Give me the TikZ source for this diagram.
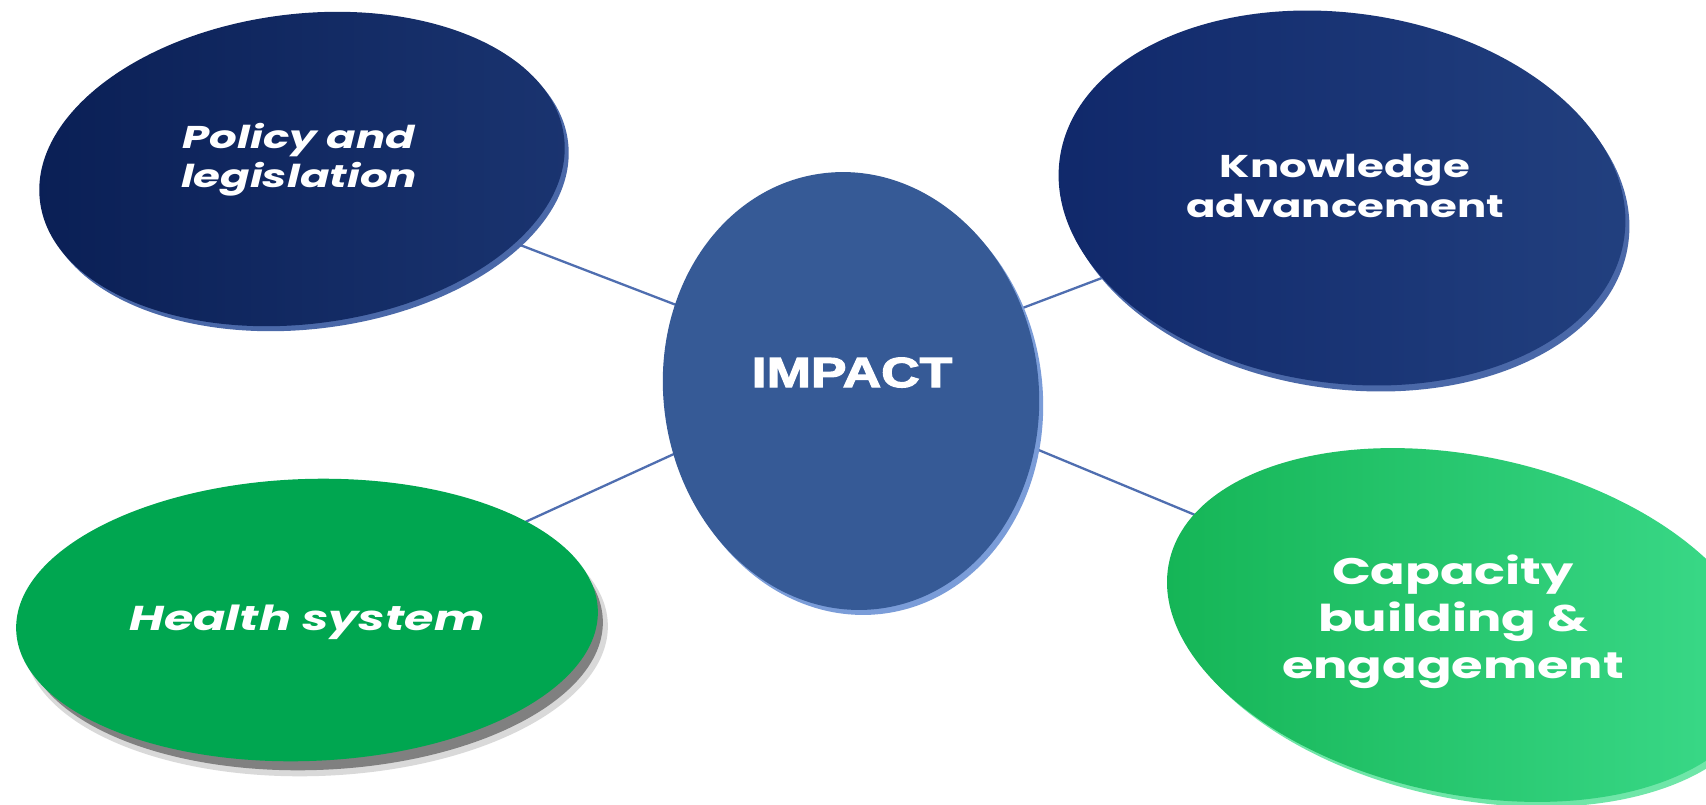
\documentclass[tikz,border=0pt]{standalone}
\usepackage{fontspec}
\setmainfont{Poppins}
\newfontfamily\lblfont{Poppins}[FakeStretch=1.38]
\newfontfamily\impfont{Liberation Sans}[FakeStretch=1.27, BoldFeatures={FakeBold=3}]
\usetikzlibrary{shapes.geometric,backgrounds}
\definecolor{pola}{HTML}{0A1F55}
\definecolor{polb}{HTML}{1A3470}
\definecolor{polrim}{HTML}{4A68A8}
\definecolor{knoa}{HTML}{10286A}
\definecolor{knob}{HTML}{22407F}
\definecolor{imp}{HTML}{365A96}
\definecolor{imprim}{HTML}{7A9CD8}
\definecolor{hea}{HTML}{00A650}
\definecolor{capa}{HTML}{14B455}
\definecolor{capb}{HTML}{3DDC8C}
\definecolor{caprim}{HTML}{6FE6A8}
\definecolor{linkblue}{HTML}{4F6EB0}
\begin{document}
\begin{tikzpicture}[x=1pt,y=1pt,
  disc/.style={ellipse, inner sep=0pt, outer sep=0pt},
  link/.style={draw=linkblue, line width=2.3pt},
  lbl/.style={text=white, align=center, inner sep=0pt}]
\useasboundingbox (0,0) rectangle (1706,-804);
\begin{scope}[on background layer]
\fill[white] (0,0) rectangle (1706,-804);
\end{scope}

% rims and shadows
\node[disc, minimum width=528, minimum height=310, rotate=7, fill=polrim] at (306,-174) {};
\node[disc, minimum width=570, minimum height=370, rotate=-8, fill=polrim] at (1346,-204) {};
\node[disc, minimum width=375, minimum height=439, rotate=8, fill=imprim] at (855,-396) {};
\node[disc, minimum width=584, minimum height=284, rotate=2, fill=black!15] at (316,-634) {};
\node[disc, minimum width=578, minimum height=280, rotate=2, fill=black!50] at (314,-630) {};
\node[disc, minimum width=605, minimum height=338, rotate=-12, fill=caprim] at (1470,-630) {};

% main discs
\node[disc, minimum width=528, minimum height=310, rotate=7, left color=pola, right color=polb] (pol) at (302,-169) {};
\node[disc, minimum width=570, minimum height=370, rotate=-8, left color=knoa, right color=knob] (kno) at (1342,-198) {};
\node[disc, minimum width=375, minimum height=439, rotate=8, fill=imp] (impact) at (851,-391) {};
\node[disc, minimum width=582, minimum height=282, rotate=2, fill=hea] (hea) at (307,-620) {};
\node[disc, minimum width=605, minimum height=338, rotate=-12, left color=capa, right color=capb] (cap) at (1465,-625) {};

% labels
\node[lbl, font=\lblfont\bfseries\itshape\fontsize{31.5}{39}\selectfont] (poltxt) at (299,-160) {Policy and\\legislation};
\node[lbl, font=\lblfont\bfseries\fontsize{31.5}{40}\selectfont] (knotxt) at (1345,-186) {Knowledge\\advancement};
\node[lbl, anchor=base, font=\impfont\bfseries\fontsize{42}{48}\selectfont] (imptxt) at (852,-387) {IMPACT};
\node[lbl, anchor=base, font=\lblfont\bfseries\itshape\fontsize{34.5}{40}\selectfont] (heatxt) at (307,-630) {Health system};
\node[lbl, font=\lblfont\bfseries\fontsize{37}{47}\selectfont] (captxt) at (1453,-622) {Capacity\\building \&\\engagement};

% links (behind the discs, joining the label centres)
\begin{scope}[on background layer]
\draw[link] (poltxt.center) -- (imptxt.center);
\draw[link] (knotxt.center) -- (imptxt.center);
\draw[link] (heatxt.center) -- (imptxt.center);
\draw[link] (captxt.center) -- (imptxt.center);
\end{scope}
\end{tikzpicture}
\end{document}
